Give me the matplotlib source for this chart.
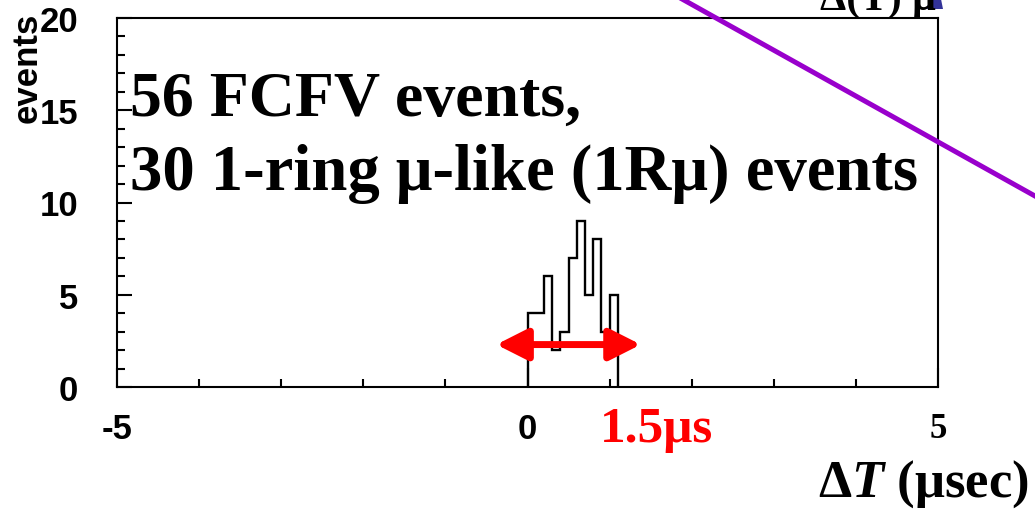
import numpy as np
import matplotlib
matplotlib.use("Agg")
import matplotlib.pyplot as plt
from matplotlib.lines import Line2D
from matplotlib.patches import Polygon

# timing histogram, 0.1 usec bins
bin_edges = np.linspace(0.0, 1.1, 12)
counts = [4, 4, 6, 2, 3, 7, 9, 5, 8, 3, 5]

x_ticks = [-5, 0, 5]
x_ticklabels = ["-5", "0", "5"]
y_ticks = [0, 5, 10, 15, 20]

window_x = (-0.38, 1.38)   # red window arrow
window_y = 2.3

plt.rcParams["mathtext.fontset"] = "custom"
plt.rcParams["mathtext.rm"] = "Liberation Serif:bold"
plt.rcParams["mathtext.it"] = "Liberation Serif:bold:italic"
plt.rcParams["mathtext.bf"] = "Liberation Serif:bold"

W, H = 1035, 510
fig = plt.figure(figsize=(W / 100, H / 100), dpi=100)
ax = fig.add_axes([117 / W, 1 - 388 / H, (938 - 117) / W, (388 - 19) / H])

ax.stairs(counts, bin_edges, color="black", lw=1.7, baseline=0)

ax.annotate("", xy=(window_x[0], window_y), xytext=(window_x[1], window_y),
            arrowprops=dict(arrowstyle="<|-|>,head_length=0.95,head_width=0.48",
                            color="red", lw=5, shrinkA=0, shrinkB=0,
                            mutation_scale=20))

ax.set_xlim(-5, 5)
ax.set_ylim(0, 20)
ax.set_xticks(x_ticks)
ax.set_xticklabels(x_ticklabels)
ax.set_xticks(np.arange(-5, 6, 1), minor=True)
ax.set_yticks(y_ticks)
ax.set_yticks(np.arange(0, 21, 1), minor=True)

for sp in ax.spines.values():
    sp.set_linewidth(1.5)

ax.tick_params(axis="x", which="major", direction="in", length=14, width=1.5, pad=18)
ax.tick_params(axis="x", which="minor", direction="in", length=6, width=1.5)
ax.tick_params(axis="y", which="major", direction="in", length=11, width=1.5, pad=28)
ax.tick_params(axis="y", which="minor", direction="in", length=6, width=1.5)

for lab in ax.get_xticklabels() + ax.get_yticklabels():
    lab.set_fontfamily("Liberation Sans")
    lab.set_fontweight("bold")
    lab.set_fontsize(25)
ax.get_xticklabels()[2].set_fontfamily("Liberation Serif")

fig.text(27 / W, 1 - 13 / H, "events", rotation=90, ha="center", va="top",
         fontsize=25, fontweight="bold", family="Liberation Sans")

fig.text(130 / W, 1 - 116 / H, "56 FCFV events,", fontsize=46,
         fontweight="bold", family="Liberation Serif", va="baseline")
fig.text(130 / W, 1 - 190 / H, "30 1-ring \u03bc-like (1R\u03bc) events", fontsize=46.5,
         fontweight="bold", family="Liberation Serif", va="baseline")

fig.text(600 / W, 1 - 442 / H, "1.5\u03bcs", fontsize=37, color="red",
         fontweight="bold", family="Liberation Serif", va="baseline")

fig.text(1029 / W, 1 - 497 / H, r"$\mathrm{\Delta}\mathit{T}\ \mathrm{(\mu sec)}$",
         fontsize=38, ha="right", va="baseline")

# pieces of neighbouring slide elements cut by the top edge
fig.text(820 / W, 1 - 10 / H, "\u0394(T) \u03bc", fontsize=30,
         fontweight="bold", family="Liberation Serif", va="baseline")
fig.patches.append(Polygon([(925 / W, 1 - 10 / H), (943 / W, 1 - 10 / H),
                            (941 / W, 1.0), (932 / W, 1.0)],
                           closed=True, transform=fig.transFigure,
                           facecolor="#333399", edgecolor="none"))

fig.lines.append(Line2D([660 / W, 1050 / W], [1 + 12.3 / H, 1 - 205.4 / H],
                        transform=fig.transFigure, color="#9900cc", lw=3.6,
                        clip_on=False))

fig.savefig("out.png", dpi=100)
